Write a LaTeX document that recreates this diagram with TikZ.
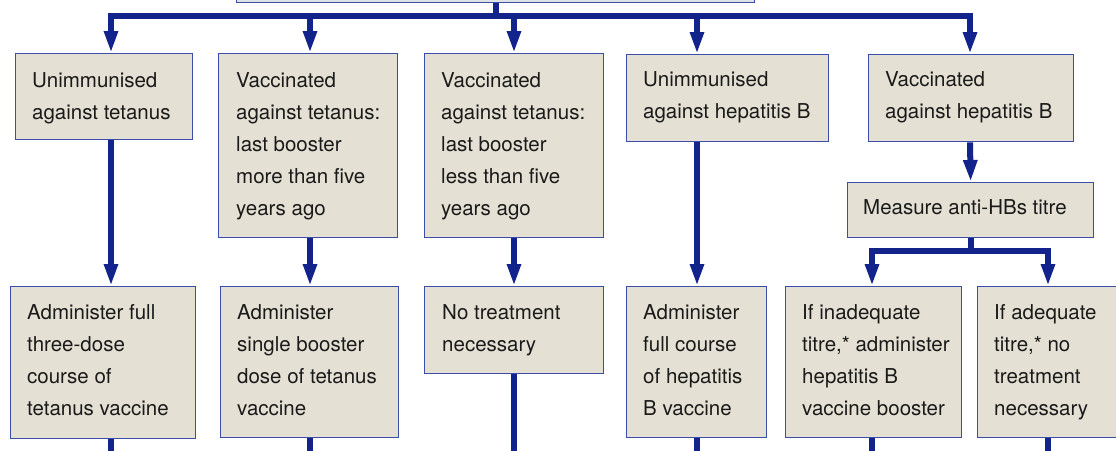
\documentclass[tikz,border=0pt]{standalone}
\usepackage{fontspec}
\setmainfont{TeX Gyre Heros}
\usetikzlibrary{arrows.meta}
\definecolor{boxfill}{HTML}{E4E1D4}
\definecolor{boxline}{HTML}{3A4DA8}
\definecolor{connblue}{HTML}{13238C}
\definecolor{topfill}{HTML}{DCE3E2}
\definecolor{txtcol}{HTML}{1A1A1A}
\newcommand\flowbox[5]{%
  \node[fbox, minimum width={#4-#2}, minimum height={#5-#3}] (#1) at (#2,#3) {};}
\begin{document}
\begin{tikzpicture}[x=1pt,y=-1pt,
  fbox/.style={draw=boxline, fill=boxfill, line width=1.3pt, inner sep=0pt, anchor=north west, shape=rectangle},
  fbtext/.style={anchor=base west, inner sep=0pt, align=left, text=txtcol,
    font={\fontsize{20.5}{32}\selectfont}},
  conn/.style={draw=connblue, line width=6pt, line join=miter},
  arr/.style={conn, -{Triangle[width=13pt,length=22pt]}}]
\useasboundingbox (0,0) rectangle (1116,450);
\clip (0,0) rectangle (1116,450);
% column coordinates
\coordinate (xa) at (111,0);
\coordinate (xb) at (310,0);
\coordinate (xc) at (514,0);
\coordinate (xd) at (697,0);
\coordinate (xe) at (970,0);
\coordinate (xf) at (872,0);
\coordinate (xg) at (1048,0);
\coordinate (bar) at (0,16);
\coordinate (bar2) at (0,251);
\coordinate (bot) at (0,470);
% top (cut) box
\node[fbox, fill=topfill, minimum width=518, minimum height=42] (T) at (236,-40) {};
% row 1
\flowbox{B1}{15}{53}{192}{139}
\flowbox{B2}{218}{53}{397}{237}
\flowbox{B3}{424}{53}{603}{237}
\flowbox{B4}{626}{54}{828}{141}
\flowbox{B5}{868}{54}{1073}{141}
\flowbox{M}{847}{182}{1093}{237}
% row 2
\flowbox{B6}{10}{286}{195}{438}
\flowbox{B7}{220}{286}{398}{437}
\flowbox{B8}{424}{286}{603}{373}
\flowbox{B9}{626}{286}{766}{437}
\flowbox{B10}{785}{286}{961}{437}
\flowbox{B11}{977}{286}{1140}{437}
% texts (anchored at the baseline of their last line)
\node[fbtext] (B1t) at (32,119) {Unimmunised\\against tetanus};
\node[fbtext] (B2t) at (236,215) {Vaccinated\\against tetanus:\\last booster\\more than five\\years ago};
\node[fbtext] (B3t) at (441,215) {Vaccinated\\against tetanus:\\last booster\\less than five\\years ago};
\node[fbtext] (B4t) at (643,118) {Unimmunised\\against hepatitis B};
\node[fbtext] (B5t) at (885,118) {Vaccinated\\against hepatitis B};
\node[fbtext] (Mt) at (863,214) {Measure anti-HBs titre};
\node[fbtext] (B6t) at (27,415) {Administer full\\three-dose\\course of\\tetanus vaccine};
\node[fbtext] (B7t) at (237,415) {Administer\\single booster\\dose of tetanus\\vaccine};
\node[fbtext] (B8t) at (442,351) {No treatment\\necessary};
\node[fbtext] (B9t) at (643,415) {Administer\\full course\\of hepatitis\\B vaccine};
\node[fbtext] (B10t) at (802,415) {If inadequate\\titre,* administer\\hepatitis B\\vaccine booster};
\node[fbtext] (B11t) at (994,415) {If adequate\\titre,* no\\treatment\\necessary};
% top distribution
\draw[arr] (T.south) -- (T.south |- bar) -| (B1.north -| xa);
\draw[arr] (T.south) -- (T.south |- bar) -| (B2.north -| xb);
\draw[arr] (T.south) -- (T.south |- bar) -| (B3.north -| xc);
\draw[arr] (T.south) -- (T.south |- bar) -| (B4.north -| xd);
\draw[arr] (T.south) -- (T.south |- bar) -| (B5.north -| xe);
% row 1 to row 2
\draw[arr] (B1.south -| xa) -- (B6.north -| xa);
\draw[arr] (B2.south -| xb) -- (B7.north -| xb);
\draw[arr] (B3.south -| xc) -- (B8.north -| xc);
\draw[arr] (B4.south -| xd) -- (B9.north -| xd);
\draw[arr] (B5.south -| xe) -- (M.north);
\draw[arr] (M.south) -- (M.south |- bar2) -| (B10.north -| xf);
\draw[arr] (M.south) -- (M.south |- bar2) -| (B11.north -| xg);
% stems leaving the picture
\draw[conn] (B6.south -| xa) -- (bot -| xa);
\draw[conn] (B7.south -| xb) -- (bot -| xb);
\draw[conn] (B8.south -| xc) -- (bot -| xc);
\draw[conn] (B9.south -| xd) -- (bot -| xd);
\draw[conn] (B10.south -| xf) -- (bot -| xf);
\draw[conn] (B11.south -| xg) -- (bot -| xg);
\end{tikzpicture}
\end{document}
